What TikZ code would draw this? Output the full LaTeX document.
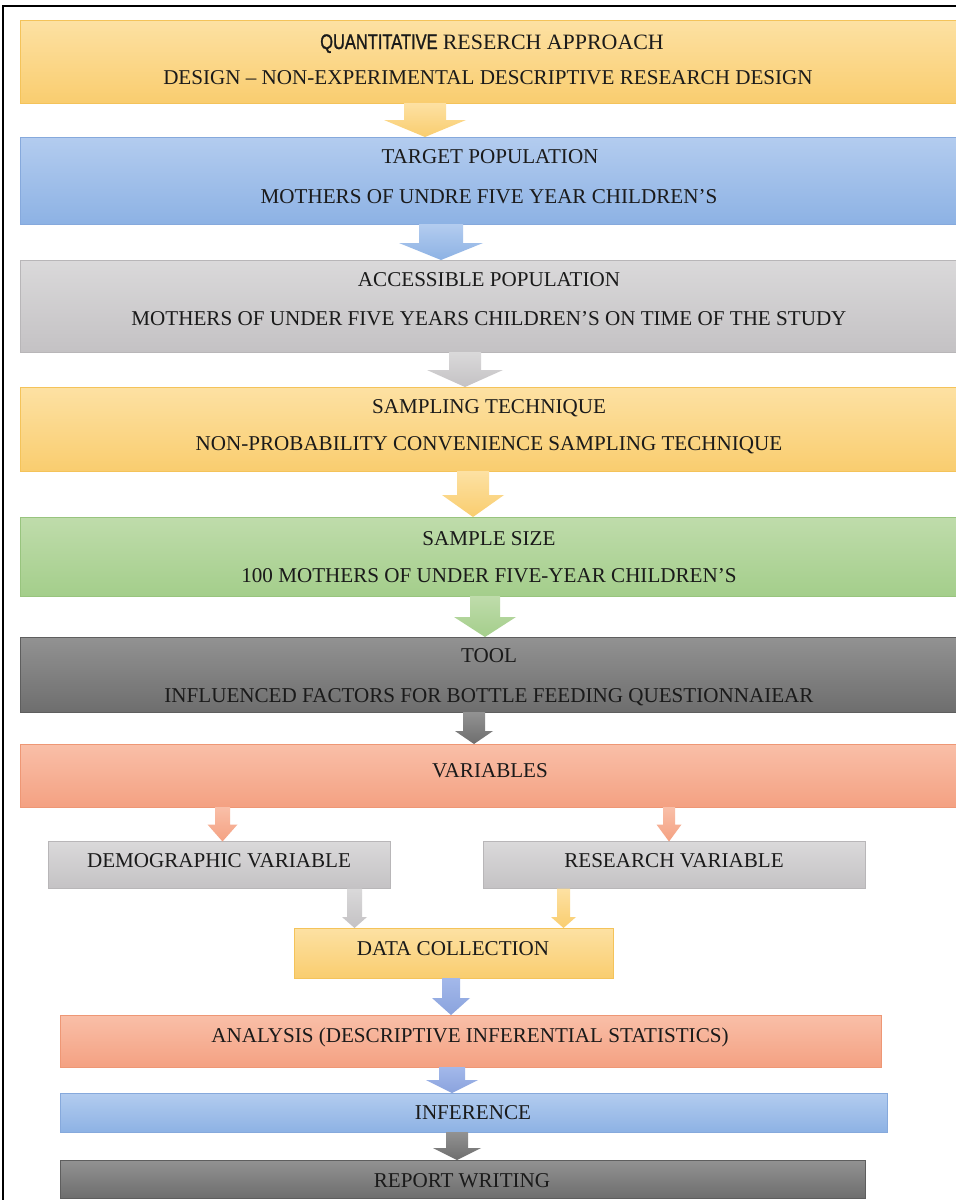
\documentclass[tikz,border=0pt]{standalone}
\usepackage{fontspec}
\setmainfont{Liberation Serif}
\newfontfamily\narrowsans[FakeStretch=0.78,FakeBold=1.2]{Liberation Sans}
\usetikzlibrary{calc}
\definecolor{yT}{HTML}{FDE1A3}\definecolor{yB}{HTML}{F9CD6F}\definecolor{yD}{HTML}{F4C35A}
\definecolor{bT}{HTML}{B3CCEF}\definecolor{bB}{HTML}{8DB2E4}\definecolor{bD}{HTML}{86A9DC}
\definecolor{gT}{HTML}{DAD9DA}\definecolor{gB}{HTML}{C4C2C4}\definecolor{gD}{HTML}{B8B6B8}
\definecolor{nT}{HTML}{BFDCAB}\definecolor{nB}{HTML}{A4CE8B}\definecolor{nD}{HTML}{98C47E}
\definecolor{dT}{HTML}{929292}\definecolor{dB}{HTML}{6E6E6E}\definecolor{dD}{HTML}{5E5E5E}
\definecolor{sT}{HTML}{F9BFA8}\definecolor{sB}{HTML}{F4A182}\definecolor{sD}{HTML}{EE9775}
\definecolor{pT}{HTML}{A3B8EA}\definecolor{pB}{HTML}{8AA3DD}
\definecolor{ink}{HTML}{1A1A1A}
\tikzset{
  boxbase/.style={rectangle, inner sep=0pt, outer sep=0pt, line width=0.8pt},
  ybox/.style={boxbase, draw=yD, top color=yT, bottom color=yB},
  bbox/.style={boxbase, draw=bD, top color=bT, bottom color=bB},
  gbox/.style={boxbase, draw=gD, top color=gT, bottom color=gB},
  nbox/.style={boxbase, draw=nD, top color=nT, bottom color=nB},
  dbox/.style={boxbase, draw=dD, top color=dT, bottom color=dB},
  sbox/.style={boxbase, draw=sD, top color=sT, bottom color=sB},
  txt/.style={anchor=base, inner sep=0pt, text=ink, font=\fontsize{21.1}{24}\selectfont},
}
% #1 top colour, #2 bottom colour, #3 from node, #4 to node, #5 x, #6 shaft half, #7 head half, #8 head length
\newcommand\blockarrow[8]{%
  \shade[top color=#1, bottom color=#2] let \p1=(#5,0 |- #3.south), \p2=(#5,0 |- #4.north) in
    (\x1-#6pt,\y1) -- (\x1+#6pt,\y1) -- (\x1+#6pt,\y2+#8pt) -- (\x1+#7pt,\y2+#8pt)
    -- (\x2,\y2) -- (\x1-#7pt,\y2+#8pt) -- (\x1-#6pt,\y2+#8pt) -- cycle;}
\begin{document}
\begin{tikzpicture}[x=1pt,y=-1pt]
\useasboundingbox (0,0) rectangle (956,1200);
\fill[white] (0,0) rectangle (956,1200);
\draw[line width=1.2pt] (3,1200) -- (3,6) -- (956,6);
% boxes
\node[ybox, minimum width=936pt, minimum height=83pt] (b1) at (488,61.5) {};
\node[bbox, minimum width=936pt, minimum height=87pt] (b2) at (488,180.5) {};
\node[gbox, minimum width=936pt, minimum height=92pt] (b3) at (488,306) {};
\node[ybox, minimum width=936pt, minimum height=84pt] (b4) at (488,429) {};
\node[nbox, minimum width=936pt, minimum height=79pt] (b5) at (488,556.5) {};
\node[dbox, minimum width=936pt, minimum height=75pt] (b6) at (488,674.5) {};
\node[sbox, minimum width=936pt, minimum height=63pt] (b7) at (488,775.5) {};
\node[gbox, minimum width=342pt, minimum height=47pt] (b8) at (219,865) {};
\node[gbox, minimum width=382pt, minimum height=47pt] (b9) at (674,865) {};
\node[ybox, minimum width=319pt, minimum height=50pt] (b10) at (453.5,953) {};
\node[sbox, minimum width=821pt, minimum height=52pt] (b11) at (470.5,1041) {};
\node[bbox, minimum width=827pt, minimum height=39pt] (b12) at (473.5,1112.5) {};
\node[dbox, minimum width=805pt, minimum height=38pt] (b13) at (462.5,1179) {};
% texts
\node[txt] (t1a) at (492,49) {{\narrowsans QUANTITATIVE} {\fontsize{21.9}{24}\selectfont RESERCH APPROACH}};
\node[txt] (t1b) at (488,84) {DESIGN – NON-EXPERIMENTAL DESCRIPTIVE RESEARCH DESIGN};
\node[txt] (t2a) at (490,163) {TARGET POPULATION};
\node[txt] (t2b) at (489,203) {MOTHERS OF UNDRE FIVE YEAR CHILDREN’S};
\node[txt] (t3a) at (489,286) {ACCESSIBLE POPULATION};
\node[txt] (t3b) at (489,325) {MOTHERS OF UNDER FIVE YEARS CHILDREN’S ON TIME OF THE STUDY};
\node[txt] (t4a) at (489,413) {SAMPLING TECHNIQUE};
\node[txt] (t4b) at (489,450) {NON-PROBABILITY CONVENIENCE SAMPLING TECHNIQUE};
\node[txt] (t5a) at (489,545) {SAMPLE SIZE};
\node[txt] (t5b) at (489,582) {100 MOTHERS OF UNDER FIVE-YEAR CHILDREN’S};
\node[txt] (t6a) at (489,662) {TOOL};
\node[txt] (t6b) at (489,702) {INFLUENCED FACTORS FOR BOTTLE FEEDING QUESTIONNAIEAR};
\node[txt] (t7) at (490,777) {VARIABLES};
\node[txt] (t8) at (219,867) {DEMOGRAPHIC VARIABLE};
\node[txt] (t9) at (674,867) {RESEARCH VARIABLE};
\node[txt] (t10) at (453,955) {DATA COLLECTION};
\node[txt] (t11) at (470,1042) {ANALYSIS (DESCRIPTIVE INFERENTIAL STATISTICS)};
\node[txt] (t12) at (473,1119) {INFERENCE};
\node[txt] (t13) at (462,1187) {REPORT WRITING};
% arrows
\blockarrow{yT}{yB}{b1}{b2}{425}{21}{41}{17}
\blockarrow{bT}{bB}{b2}{b3}{441}{22}{42}{17}
\blockarrow{gT}{gB}{b3}{b4}{465}{16}{38}{17}
\blockarrow{yT}{yB}{b4}{b5}{473}{16}{31}{22}
\blockarrow{nT}{nB}{b5}{b6}{485}{15}{31}{20}
\blockarrow{dT}{dB}{b6}{b7}{474}{11}{19}{13}
\blockarrow{sT}{sB}{b7}{b8}{222.5}{7.5}{15}{17}
\blockarrow{sT}{sB}{b7}{b9}{669}{6}{12.5}{17}
\blockarrow{gT}{gB}{b8}{b10}{354.5}{7.5}{12.5}{11}
\blockarrow{yT}{yB}{b9}{b10}{563.5}{6.5}{12.5}{11}
\blockarrow{pT}{pB}{b10}{b11}{451}{9}{19}{17}
\blockarrow{pT}{pB}{b11}{b12}{452}{13}{26}{13}
\blockarrow{dT}{dB}{b12}{b13}{457}{11}{24}{12}
\end{tikzpicture}
\end{document}
